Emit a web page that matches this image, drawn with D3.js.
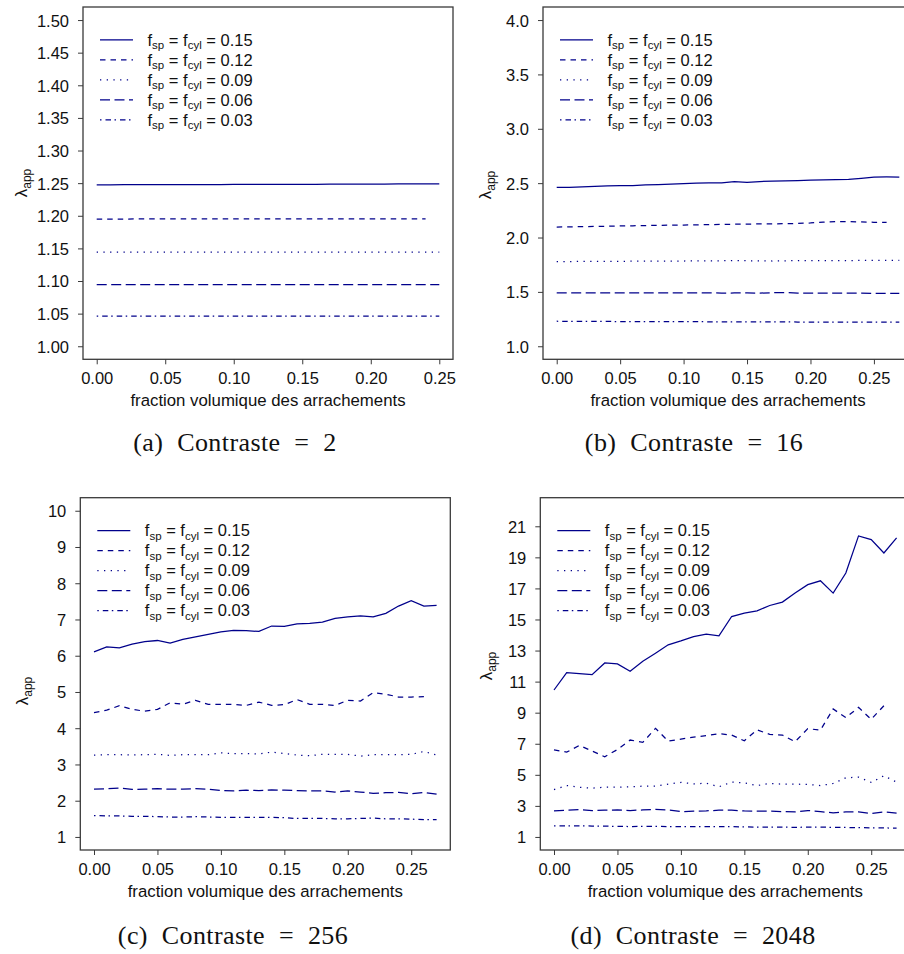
<!DOCTYPE html>
<html><head><meta charset="utf-8">
<script src="https://cdn.jsdelivr.net/npm/d3@7"></script>
<style>body{margin:0;background:#fff}svg{display:block}</style>
</head><body><svg id="chart" width="904" height="954"></svg>
<script>
// ---------- data ----------
const fraction = [0.00,0.01,0.02,0.03,0.04,0.05,0.06,0.07,0.08,0.09,0.10,0.11,0.12,0.13,0.14,0.15,0.16,0.17,0.18,0.19,0.20,0.21,0.22,0.23,0.24,0.25,0.26,0.27];
const seriesLabels = ["0.15","0.12","0.09","0.06","0.03"];
const captions = ["(a) Contraste = 2","(b) Contraste = 16","(c) Contraste = 256","(d) Contraste = 2048"];
const xTicks = [0.00,0.05,0.10,0.15,0.20,0.25];
const yTicksA = [1.00,1.05,1.10,1.15,1.20,1.25,1.30,1.35,1.40,1.45,1.50];
const yTicksB = [1.0,1.5,2.0,2.5,3.0,3.5,4.0];
const yTicksC = [1,2,3,4,5,6,7,8,9,10];
const yTicksD = [1,3,5,7,9,11,13,15,17,19,21];

// (a) Contraste = 2
const a15 = [1.2475,1.2475,1.2476,1.2476,1.2477,1.2477,1.2478,1.2478,1.2479,1.2479,1.2480,1.2480,1.2481,1.2481,1.2482,1.2482,1.2483,1.2484,1.2484,1.2485,1.2486,1.2486,1.2487,1.2488,1.2489,1.2490];
const a12 = [1.1950,1.1950,1.1950,1.1951,1.1951,1.1951,1.1951,1.1951,1.1952,1.1952,1.1952,1.1952,1.1952,1.1952,1.1953,1.1953,1.1953,1.1953,1.1953,1.1953,1.1954,1.1954,1.1954,1.1954,1.1954];
const a09 = [1.1443,1.1443,1.1443,1.1443,1.1443,1.1443,1.1443,1.1443,1.1443,1.1443,1.1443,1.1443,1.1443,1.1443,1.1443,1.1443,1.1443,1.1443,1.1443,1.1443,1.1443,1.1443,1.1443,1.1443,1.1443,1.1443];
const a06 = [1.0944,1.0944,1.0944,1.0944,1.0944,1.0944,1.0944,1.0944,1.0944,1.0944,1.0944,1.0944,1.0944,1.0944,1.0944,1.0944,1.0944,1.0944,1.0944,1.0944,1.0944,1.0944,1.0944,1.0944,1.0944,1.0944];
const a03 = [1.0463,1.0463,1.0463,1.0463,1.0463,1.0463,1.0463,1.0463,1.0463,1.0463,1.0463,1.0463,1.0463,1.0463,1.0463,1.0463,1.0463,1.0463,1.0463,1.0463,1.0463,1.0463,1.0463,1.0463,1.0463,1.0463];

// (b) Contraste = 16
const b15 = [2.460,2.462,2.465,2.470,2.474,2.478,2.478,2.483,2.487,2.491,2.496,2.500,2.502,2.503,2.513,2.506,2.515,2.518,2.521,2.524,2.527,2.530,2.532,2.535,2.545,2.556,2.557,2.556];
const b12 = [2.096,2.098,2.100,2.102,2.104,2.106,2.108,2.110,2.112,2.114,2.115,2.117,2.119,2.120,2.122,2.123,2.125,2.125,2.127,2.130,2.134,2.141,2.147,2.146,2.143,2.140,2.139];
const b09 = [1.779,1.779,1.780,1.780,1.781,1.781,1.782,1.782,1.783,1.783,1.784,1.785,1.785,1.786,1.789,1.786,1.785,1.784,1.786,1.787,1.788,1.787,1.787,1.788,1.789,1.789,1.790,1.790];
const b06 = [1.490,1.490,1.491,1.490,1.491,1.491,1.491,1.490,1.491,1.490,1.490,1.490,1.491,1.489,1.490,1.490,1.489,1.492,1.494,1.489,1.488,1.488,1.489,1.488,1.488,1.487,1.487,1.487];
const b03 = [1.230,1.229,1.229,1.228,1.228,1.227,1.227,1.227,1.226,1.226,1.226,1.226,1.225,1.225,1.225,1.224,1.224,1.224,1.224,1.223,1.223,1.223,1.223,1.222,1.222,1.222,1.221,1.221];

// (c) Contraste = 256
const c15 = [6.105,6.243,6.215,6.318,6.39,6.42,6.345,6.45,6.52,6.59,6.66,6.70,6.69,6.67,6.82,6.81,6.88,6.89,6.93,7.03,7.07,7.10,7.07,7.17,7.37,7.52,7.37,7.39];
const c12 = [4.43,4.50,4.62,4.52,4.47,4.52,4.70,4.66,4.77,4.66,4.66,4.66,4.63,4.72,4.63,4.65,4.79,4.66,4.66,4.63,4.77,4.75,4.98,4.94,4.86,4.86,4.87];
const c09 = [3.26,3.27,3.27,3.26,3.27,3.28,3.25,3.27,3.27,3.27,3.32,3.30,3.30,3.29,3.34,3.30,3.26,3.24,3.28,3.28,3.28,3.23,3.27,3.27,3.27,3.28,3.36,3.26];
const c06 = [2.32,2.33,2.35,2.31,2.32,2.33,2.32,2.32,2.33,2.32,2.28,2.27,2.29,2.28,2.30,2.29,2.28,2.27,2.27,2.24,2.27,2.24,2.20,2.22,2.23,2.19,2.23,2.18];
const c03 = [1.59,1.58,1.58,1.57,1.57,1.56,1.55,1.55,1.56,1.55,1.54,1.54,1.54,1.54,1.54,1.53,1.51,1.51,1.51,1.50,1.50,1.51,1.52,1.50,1.50,1.49,1.48,1.48];

// (d) Contraste = 2048
const d15 = [10.46,11.58,11.52,11.45,12.20,12.14,11.67,12.31,12.83,13.37,13.62,13.90,14.05,13.95,15.19,15.41,15.56,15.90,16.12,16.70,17.24,17.49,16.70,17.99,20.38,20.14,19.28,20.25];
const d12 = [6.61,6.46,6.89,6.53,6.16,6.63,7.24,7.09,7.99,7.17,7.30,7.43,7.52,7.65,7.56,7.19,7.90,7.60,7.56,7.13,7.97,7.88,9.24,8.68,9.34,8.57,9.45];
const d09 = [4.05,4.31,4.20,4.14,4.20,4.20,4.23,4.27,4.27,4.40,4.51,4.42,4.46,4.23,4.53,4.48,4.31,4.44,4.40,4.40,4.38,4.31,4.44,4.81,4.85,4.51,4.94,4.53];
const d06 = [2.68,2.72,2.76,2.70,2.72,2.74,2.70,2.74,2.78,2.74,2.63,2.66,2.68,2.72,2.72,2.68,2.66,2.66,2.63,2.61,2.70,2.63,2.55,2.61,2.61,2.51,2.61,2.53];
const d03 = [1.71,1.71,1.72,1.70,1.70,1.68,1.67,1.68,1.68,1.67,1.66,1.66,1.66,1.66,1.66,1.65,1.63,1.63,1.63,1.62,1.63,1.63,1.62,1.61,1.60,1.59,1.58,1.57];

// ---------- layout / style ----------
const dashes = [null, "5.5,5", "1.3,5.4", "10,4.5", "1.5,4,5.5,3.5"];
const lineColor = "#00008B";
const SANS = "'Liberation Sans', Arial, Helvetica, sans-serif";
const SERIF = "'Liberation Serif', 'DejaVu Serif', serif";
const BOX_W = 370, BOX_H = 352.3;

const panels = [
  {left:83, top:7, xlim:[0,0.25], ylim:[1,1.5], yTicks:yTicksA, yFmt:".2f",
   series:[a15,a12,a09,a06,a03], caption:captions[0], capX:235, capY:451, labX:27, labY:183},
  {left:543, top:7, xlim:[0,0.27], ylim:[1,4], yTicks:yTicksB, yFmt:".1f",
   series:[b15,b12,b09,b06,b03], caption:captions[1], capX:694, capY:451, labX:491, labY:185},
  {left:80.3, top:497.7, xlim:[0,0.27], ylim:[1,10], yTicks:yTicksC, yFmt:"d",
   series:[c15,c12,c09,c06,c03], caption:captions[2], capX:233, capY:944, labX:28, labY:691},
  {left:540.3, top:497.7, xlim:[0,0.27], ylim:[1,22], yTicks:yTicksD, yFmt:"d",
   series:[d15,d12,d09,d06,d03], caption:captions[3], capX:693, capY:944, labX:492, labY:666}
];

const svg = d3.select("#chart");

function ext(l){ const r=(l[1]-l[0])*0.04; return [l[0]-r, l[1]+r]; }

panels.forEach(p => {
  const x = d3.scaleLinear().domain(ext(p.xlim)).range([p.left, p.left + BOX_W]);
  const y = d3.scaleLinear().domain(ext(p.ylim)).range([p.top + BOX_H, p.top]);
  const g = svg.append("g");

  // lines
  const line = d3.line().x((d,i)=>x(fraction[i])).y(d=>y(d));
  p.series.forEach((s,k)=>{
    g.append("path").attr("d", line(s)).attr("fill","none")
      .attr("stroke", lineColor).attr("stroke-width",1.25)
      .attr("stroke-dasharray", dashes[k]);
  });

  // box
  g.append("rect").attr("x",p.left).attr("y",p.top).attr("width",BOX_W).attr("height",BOX_H)
    .attr("fill","none").attr("stroke","#3a3a3a").attr("stroke-width",1.3);

  // axes
  const xa = g.append("g").attr("transform",`translate(0,${p.top+BOX_H})`)
    .call(d3.axisBottom(x).tickValues(xTicks).tickFormat(d3.format(".2f")).tickSize(5).tickPadding(8));
  xa.select(".domain").remove();
  xa.selectAll("line").attr("stroke","#3a3a3a");
  xa.selectAll("text").attr("font-family",SANS).attr("font-size",16.5).attr("fill","#111")
    .attr("dy",null).attr("y",25);

  const ya = g.append("g").attr("transform",`translate(${p.left},0)`)
    .call(d3.axisLeft(y).tickValues(p.yTicks).tickFormat(d3.format(p.yFmt)).tickSize(5).tickPadding(9));
  ya.select(".domain").remove();
  ya.selectAll("line").attr("stroke","#3a3a3a");
  ya.selectAll("text").attr("font-family",SANS).attr("font-size",16.5).attr("fill","#111").attr("dy","0.36em");

  // x title
  g.append("text").attr("x",p.left+BOX_W/2).attr("y",p.top+BOX_H+47)
    .attr("text-anchor","middle").attr("font-family",SANS).attr("font-size",16.8).attr("fill","#111")
    .text("fraction volumique des arrachements");

  // y title λapp
  const yl = g.append("text").attr("transform",`translate(${p.labX},${p.labY}) rotate(-90)`)
    .attr("text-anchor","middle").attr("font-family",SANS).attr("fill","#111");
  yl.append("tspan").attr("font-size",17).text("λ");
  yl.append("tspan").attr("font-size",12).attr("dy",4).text("app");

  // legend
  seriesLabels.forEach((lab,k)=>{
    const ly = p.top + 32.8 + 20*k;
    g.append("line").attr("x1",p.left+17).attr("x2",p.left+50).attr("y1",ly).attr("y2",ly)
      .attr("stroke",lineColor).attr("stroke-width",1.25).attr("stroke-dasharray",dashes[k]);
    const t = g.append("text").attr("x",p.left+64.5).attr("y",ly+5.7)
      .attr("font-family",SANS).attr("font-size",16.5).attr("fill","#111");
    t.append("tspan").text("f");
    t.append("tspan").attr("font-size",11.5).attr("dy",3.5).text("sp");
    t.append("tspan").attr("dy",-3.5).text(" = f");
    t.append("tspan").attr("font-size",11.5).attr("dy",3.5).text("cyl");
    t.append("tspan").attr("dy",-3.5).text(" = " + lab);
  });

  // caption
  g.append("text").attr("x",p.capX).attr("y",p.capY).attr("text-anchor","middle")
    .attr("font-family",SERIF).attr("font-size",26).attr("fill","#111")
    .attr("letter-spacing",0.4).attr("word-spacing",7)
    .text(p.caption);
});
</script></body></html>
